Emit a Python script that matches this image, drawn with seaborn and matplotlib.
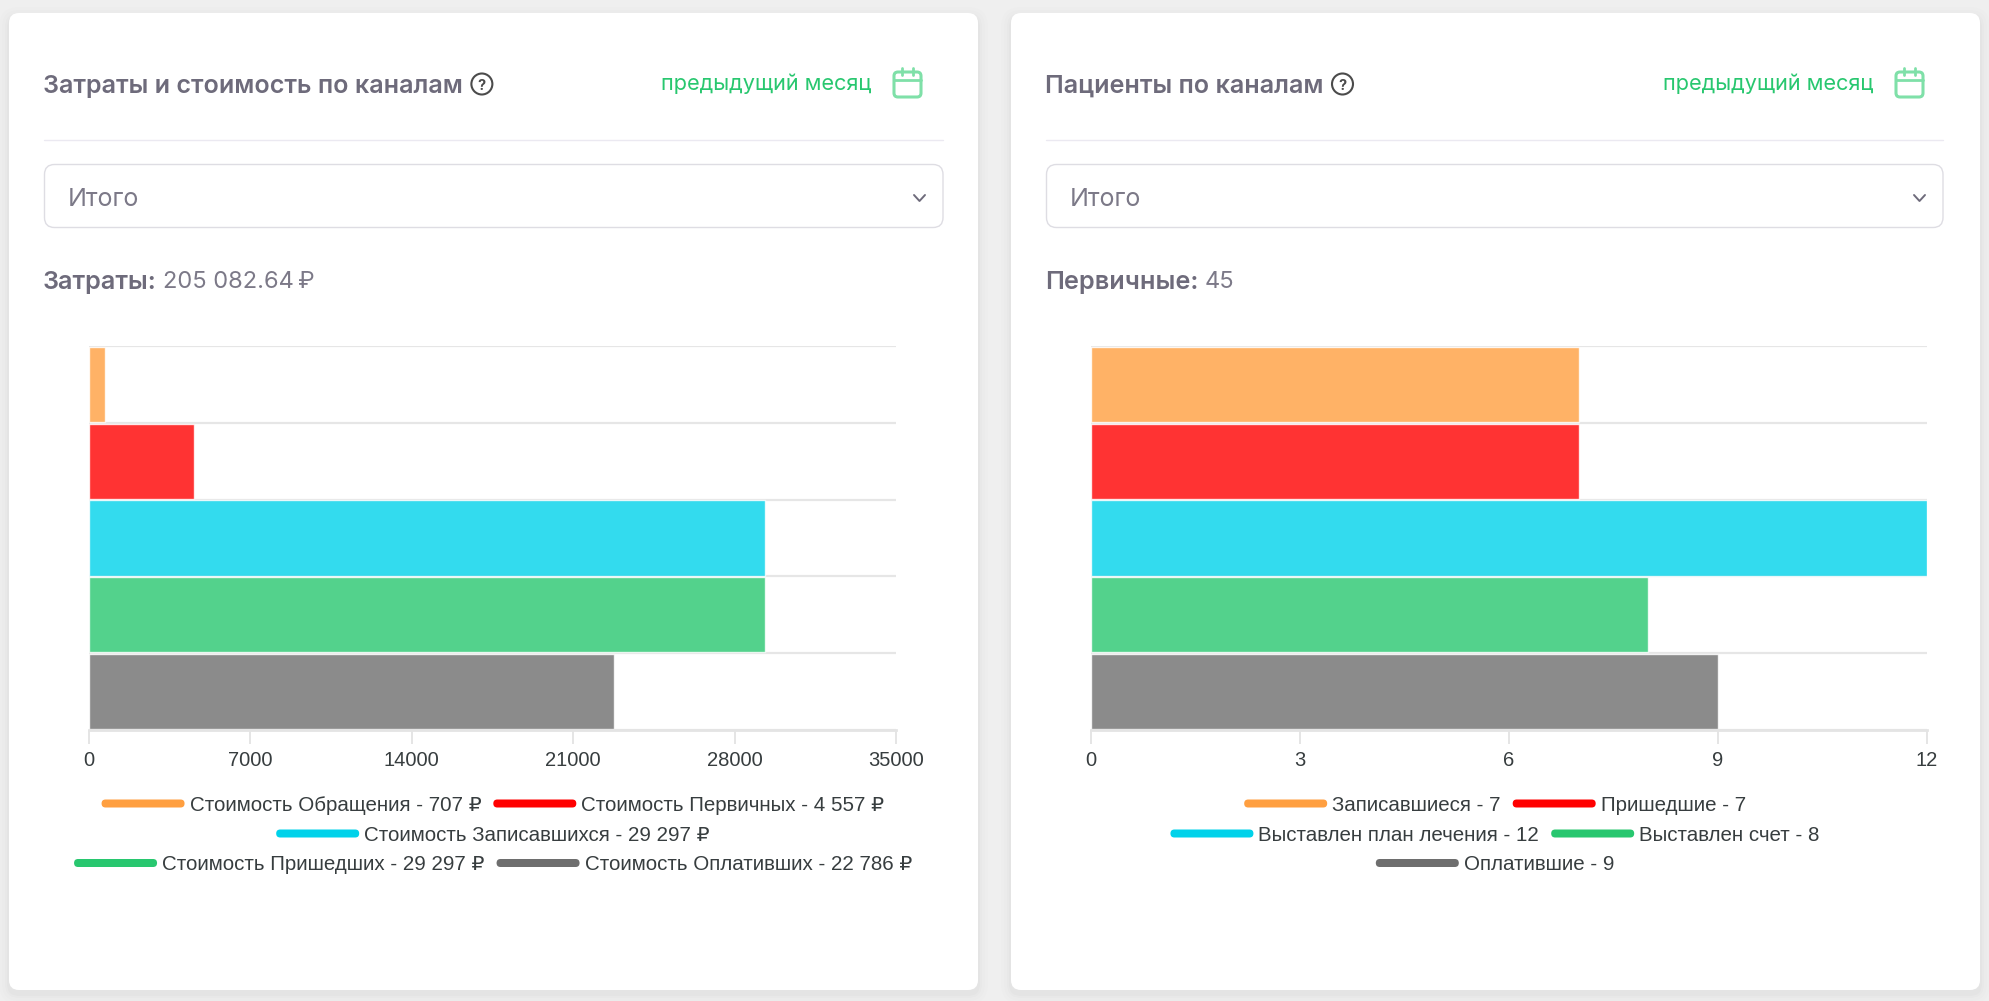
import matplotlib
matplotlib.use("Agg")
import numpy as np
import pandas as pd
import matplotlib.pyplot as plt
import seaborn as sns
from matplotlib.patches import FancyBboxPatch, Circle

W, H = 1990, 1001

cost_names = ['Стоимость Обращения', 'Стоимость Первичных', 'Стоимость Записавшихся',
              'Стоимость Пришедших', 'Стоимость Оплативших']
cost_values = [707, 4557, 29297, 29297, 22786]
cost_ticks = [0, 7000, 14000, 21000, 28000, 35000]
cost_rows = [[0, 1], [2], [3, 4]]

patient_names = ['Записавшиеся', 'Пришедшие', 'Выставлен план лечения', 'Выставлен счет', 'Оплатившие']
patient_values = [7, 7, 12, 8, 9]
patient_ticks = [0, 3, 6, 9, 12]
patient_rows = [[0, 1], [2, 3], [4]]

colors = ['#ff9f40', '#ff0000', '#00d2ea', '#28c76f', '#6e6e6e']

sns.set_theme(style='white')
plt.rcParams['font.family'] = ['Liberation Sans', 'DejaVu Sans']
HEAD = ['Inter', 'DejaVu Sans']
GREY = '#6e6b7b'

fig = plt.figure(figsize=(W / 100, H / 100), dpi=100, facecolor='#efefef')
bg = fig.add_axes([0, 0, 1, 1], zorder=0)
bg.set_xlim(0, W)
bg.set_ylim(H, 0)
bg.axis('off')
renderer = fig.canvas.get_renderer()


def rbox(x0, y0, x1, y1, r, **kw):
    box = FancyBboxPatch((x0 + r, y0 + r), x1 - x0 - 2 * r, y1 - y0 - 2 * r,
                         boxstyle=f'round,pad={r},rounding_size={r}', **kw)
    bg.add_patch(box)
    return box


def text_width(t):
    return t.get_window_extent(renderer).width


def draw_header(dx, right, title, stat_label, stat_value):
    # card with a soft shadow
    for grow, a in [(10, 0.006), (7, 0.008), (4, 0.012), (2, 0.015)]:
        rbox(9 + dx - grow, 13 - grow + 4, 978 + dx + grow, 990 + grow + 4, 10 + grow,
             fc='black', ec='none', alpha=a)
    rbox(9 + dx, 13, 978 + dx, 990, 10, fc='white', ec='none')

    t = bg.text(43 + dx, 84, title, family=HEAD, fontsize=18.1, fontweight='semibold',
                color=GREY, va='center_baseline')
    end = 43 + dx + text_width(t)
    bg.add_patch(Circle((end + 19, 84), 10.5, fc='none', ec='#4b4b4b', lw=1.5))
    bg.text(end + 19, 84, '?', family=HEAD, fontsize=10.5, fontweight='bold', color='#4b4b4b',
            ha='center', va='center_baseline')

    bg.text(661 + dx, 82, 'предыдущий месяц', family=HEAD, fontsize=15.65, color='#28c76f',
            va='center_baseline')
    rbox(894 + dx, 72, 921 + dx, 97, 4, fc='none', ec='#7fe0a8', lw=2.2)
    bg.plot([894 + dx, 921 + dx], [80, 80], color='#7fe0a8', lw=2)
    for cx in (902, 913):
        bg.plot([cx + dx, cx + dx], [68, 75], color='#7fe0a8', lw=2)

    bg.plot([44 + dx, right], [140, 140], color='#ebe9f1', lw=1)
    rbox(44.5 + dx, 164.5, right, 227.5, 10, fc='white', ec='#dedde3', lw=1)
    bg.text(68 + dx, 197, 'Итого', family=HEAD, fontsize=18, fontweight='normal', color=GREY,
            va='center_baseline', alpha=0.9)
    bg.plot([right - 29, right - 23.5, right - 18], [195, 201, 195], color=GREY, lw=1.4)

    s = bg.text(43 + dx, 280, stat_label, family=HEAD, fontsize=18.2, fontweight='semibold', color=GREY,
                va='center_baseline')
    bg.text(43 + dx + text_width(s) + 6, 280, stat_value, family=HEAD, fontsize=17, fontweight='normal',
            color=GREY, va='center_baseline', alpha=0.9)


def draw_chart(x0, x1, names, values, ticks):
    ax = fig.add_axes([x0 / W, 1 - 730 / H, (x1 - x0) / W, (730 - 346) / H], zorder=1)
    ax.patch.set_alpha(0)
    df = pd.DataFrame({'name': names, 'value': values})
    sns.barplot(data=df, x='value', y='name', hue='name', palette=colors, orient='h', ax=ax,
                legend=False, dodge=False, saturation=1, alpha=0.8, width=0.98,
                edgecolor='white', linewidth=1)
    ax.set_xlim(ticks[0], ticks[-1])
    ax.set_yticks(np.arange(-0.5, len(names)))
    ax.set_ylim(len(names) - 0.5, -0.5)
    ax.set_yticklabels([])
    ax.grid(axis='y', color='#e6e6e6', lw=1.6)
    ax.set_axisbelow(True)
    ax.set_xticks(ticks)
    ax.set_xlabel('')
    ax.set_ylabel('')
    ax.tick_params(axis='y', length=0)
    ax.tick_params(axis='x', bottom=True, length=10, width=1.2, color='#e0e0e0', pad=5,
                   labelsize=14.5, labelcolor='#373d3f', direction='out')
    for side in ('top', 'right', 'left'):
        ax.spines[side].set_visible(False)
    ax.spines['bottom'].set_color('#e4e4e4')
    ax.spines['bottom'].set_linewidth(2)
    return ax


def draw_legend(center, labels, rows):
    for y, row in zip((803.5, 833.5, 863), rows):
        items = [bg.text(0, y, labels[i], fontsize=14.75, color='#373d3f', va='center_baseline') for i in row]
        widths = [text_width(t) for t in items]
        total = sum(widths) + len(row) * 88 + (len(row) - 1) * 12
        x = center - total / 2
        for i, t, w in zip(row, items, widths):
            rbox(x, y - 4, x + 83, y + 4, 4, fc=colors[i], ec='none')
            t.set_x(x + 88)
            x += 88 + w + 12


cost_labels = [f'{n} - {v:,} ₽'.replace(',', ' ') for n, v in zip(cost_names, cost_values)]
patient_labels = [f'{n} - {v}' for n, v in zip(patient_names, patient_values)]

draw_header(0, 943, 'Затраты и стоимость по каналам', 'Затраты:', '205 082.64\u2009₽')
draw_chart(89, 896, cost_names, cost_values, cost_ticks)
draw_legend(493, cost_labels, cost_rows)

draw_header(1002, 1943, 'Пациенты по каналам', 'Первичные:', '45')
draw_chart(1091, 1927, patient_names, patient_values, patient_ticks)
draw_legend(1495, patient_labels, patient_rows)

fig.savefig('out.png', dpi=100, facecolor=fig.get_facecolor())
